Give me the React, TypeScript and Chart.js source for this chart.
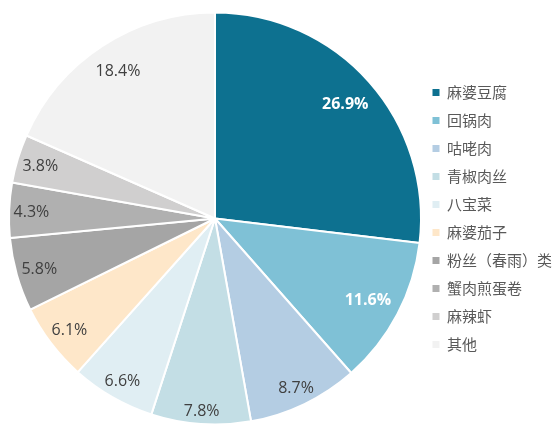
import React, { useEffect, useRef } from "react";
import { Chart, registerables } from "chart.js";

Chart.register(...registerables);

const categories = [
  "麻婆豆腐",
  "回锅肉",
  "咕咾肉",
  "青椒肉丝",
  "八宝菜",
  "麻婆茄子",
  "粉丝（春雨）类",
  "蟹肉煎蛋卷",
  "麻辣虾",
  "其他",
];
const shares = [26.9, 11.6, 8.7, 7.8, 6.6, 6.1, 5.8, 4.3, 3.8, 18.4];

const sliceColors = [
  "#0d7190",
  "#7fc1d6",
  "#b4cde3",
  "#c3dee5",
  "#e0eef3",
  "#fee7c9",
  "#a5a5a5",
  "#b0b0b0",
  "#d0cfcf",
  "#f2f2f2",
];
const labelColors = [
  "#ffffff",
  "#ffffff",
  "#404040",
  "#404040",
  "#404040",
  "#404040",
  "#404040",
  "#404040",
  "#404040",
  "#404040",
];
const labelBold = [true, true, false, false, false, false, false, false, false, false];

// Labels are fitted inside the slice's outer end (best-fit style).
const labelPlugin = {
  id: "sliceLabels",
  afterDatasetsDraw(chart: any) {
    const ctx = chart.ctx;
    const meta = chart.getDatasetMeta(0);
    ctx.save();
    ctx.textAlign = "center";
    ctx.textBaseline = "alphabetic";
    meta.data.forEach((arc: any, i: number) => {
      const { x, y, startAngle, endAngle, outerRadius } = arc.getProps(
        ["x", "y", "startAngle", "endAngle", "outerRadius"],
        true
      );
      const mid = (startAngle + endAngle) / 2;
      const ux = Math.cos(mid);
      const uy = Math.sin(mid);
      const text = shares[i].toFixed(1) + "%";
      ctx.font = `${labelBold[i] ? "bold " : ""}16px "Open Sans", "Noto Sans", sans-serif`;
      const hw = ctx.measureText(text).width / 2;
      const hh = 8;
      const a = hw * Math.sign(ux);
      const b = hh * Math.sign(uy);
      const margin = shares[i] >= 10 ? 9 : 4;
      const T = outerRadius - margin;
      const p = ux * a + uy * b;
      const d = -p + Math.sqrt(p * p - (a * a + b * b - T * T));
      ctx.fillStyle = labelColors[i];
      ctx.fillText(text, x + ux * d, y + uy * d + 6);
    });
    ctx.restore();
  },
};

export default function App() {
  const ref = useRef<HTMLCanvasElement | null>(null);

  useEffect(() => {
    document.body.style.margin = "0";
    const canvas = ref.current;
    if (!canvas) return;
    const baseGen = (Chart as any).overrides.pie.plugins.legend.labels.generateLabels;
    const chart = new Chart(canvas, {
      type: "pie",
      data: {
        labels: categories,
        datasets: [
          {
            data: shares,
            backgroundColor: sliceColors,
            borderColor: "#ffffff",
            borderWidth: 2,
            radius: 206,
          },
        ],
      },
      options: {
        responsive: false,
        animation: false,
        layout: { padding: { left: 10.5, top: 11, bottom: 9, right: -7 } },
        plugins: {
          tooltip: { enabled: false },
          legend: {
            position: "right",
            labels: {
              boxWidth: 7,
              boxHeight: 7,
              padding: 13,
              color: "#595959",
              font: { family: '"Noto Sans CJK SC", sans-serif', size: 15 },
              generateLabels: (c: any) =>
                baseGen(c).map((item: any) => ({
                  ...item,
                  lineWidth: 0,
                  strokeStyle: item.fillStyle,
                })),
            },
          },
        },
      },
      plugins: [labelPlugin],
    });
    return () => chart.destroy();
  }, []);

  return (
    <div style={{ width: 555, height: 435, background: "#ffffff" }}>
      <canvas ref={ref} width={555} height={435} />
    </div>
  );
}
